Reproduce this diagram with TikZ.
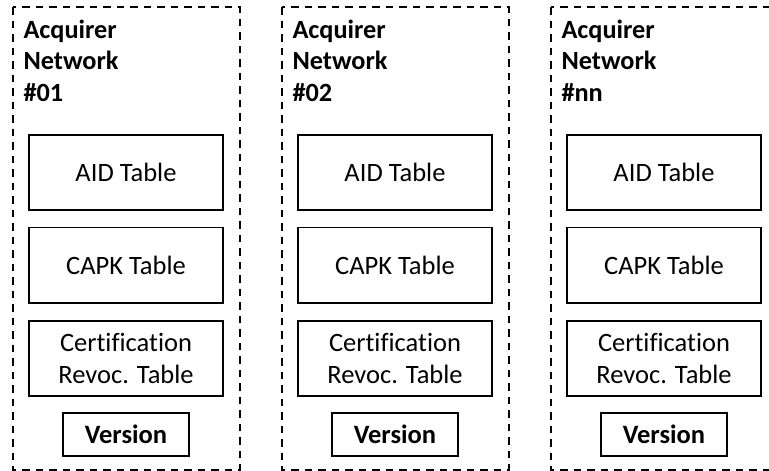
\documentclass[tikz,border=0pt]{standalone}
\usepackage{fontspec}
\setmainfont[Ligatures=NoCommon]{Carlito}
\begin{document}
\begin{tikzpicture}[x=1pt,y=-1pt,
  colbox/.style={draw=black,line width=1.8pt,dash pattern=on 7.5pt off 6pt},
  tablebox/.style={draw=black,line width=1.8pt,minimum width=193.4pt,minimum height=75.5pt,inner sep=0pt,align=center,font=\fontsize{26.5}{32}\selectfont},
  verbox/.style={draw=black,line width=1.8pt,minimum width=126.6pt,minimum height=43.3pt,inner sep=0pt,font=\fontsize{26.5}{32}\selectfont\bfseries},
  titletext/.style={align=left,inner sep=0pt,anchor=base west,font=\fontsize{26.3}{31.7}\selectfont\bfseries}]
\useasboundingbox (0,0) rectangle (769,471);
\clip (0,0) rectangle (769,471);
\foreach \dx/\id/\lab in {0/a/01, 269/b/02, 538/c/nn} {
  \draw[colbox] (12.7+\dx,7) rectangle (240+\dx,470);
  \node[titletext] (title\id) at (23.3+\dx,101.4) {Acquirer\\Network\\\#\lab};
  \node[tablebox] (aid\id) at (126+\dx,172.6) {AID Table};
  \node[tablebox] (capk\id) at (126+\dx,265.3) {CAPK Table};
  \node[tablebox] (cert\id) at (126+\dx,358.4) {Certification\\Revoc. Table};
  \node[verbox] (ver\id) at (126+\dx,434.4) {Version};
}
\end{tikzpicture}
\end{document}
